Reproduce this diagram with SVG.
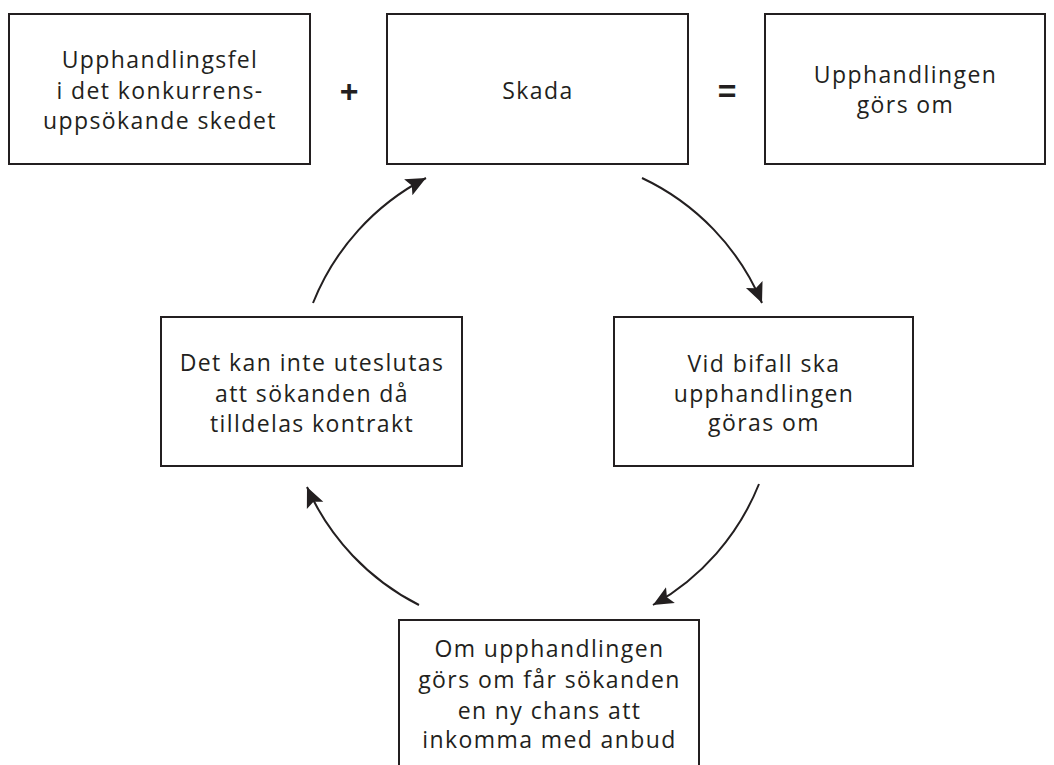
<svg xmlns="http://www.w3.org/2000/svg" width="1054" height="765" viewBox="0 0 1054 765">
<style>
.box{fill:#fff;stroke:#231f20;stroke-width:2}
.t{font-family:"Open Sans","Noto Sans",sans-serif;font-size:23px;letter-spacing:1.4px;fill:#231f20;text-anchor:middle}
.op{font-family:"Liberation Sans",sans-serif;font-size:32px;font-weight:bold;fill:#231f20;text-anchor:middle}
.c{fill:none;stroke:#231f20;stroke-width:2}
</style>
<defs>
<marker id="ah" markerUnits="userSpaceOnUse" markerWidth="22" markerHeight="22" viewBox="0 0 22 22" refX="20" refY="11" orient="auto">
<path d="M0,2 L20,11 L0,20 L4,11 Z" fill="#231f20"/>
</marker>
</defs>
<rect width="1054" height="765" fill="#fff"/>
<g id="n1"><rect class="box" x="9" y="14" width="301" height="150"/>
<text class="t" x="160" y="68">Upphandlingsfel</text>
<text class="t" x="160" y="99">i det konkurrens-</text>
<text class="t" x="160" y="129">uppsökande skedet</text></g>
<g id="plus"><text class="op" x="349" y="102">+</text></g>
<g id="n2"><rect class="box" x="387" y="14" width="301" height="150"/>
<text class="t" x="538" y="99">Skada</text></g>
<g id="eq"><text class="op" x="727" y="102">=</text></g>
<g id="n3"><rect class="box" x="765" y="14" width="280" height="150"/>
<text class="t" x="905.5" y="83">Upphandlingen</text>
<text class="t" x="905.5" y="113">görs om</text></g>
<g id="n4"><rect class="box" x="161" y="317" width="301" height="149"/>
<text class="t" x="312" y="371">Det kan inte uteslutas</text>
<text class="t" x="312" y="402">att sökanden då</text>
<text class="t" x="312" y="432">tilldelas kontrakt</text></g>
<g id="n5"><rect class="box" x="614" y="317" width="299" height="149"/>
<text class="t" x="764" y="372">Vid bifall ska</text>
<text class="t" x="764" y="402">upphandlingen</text>
<text class="t" x="764" y="431">göras om</text></g>
<g id="n6"><rect class="box" x="399" y="620" width="300" height="160"/>
<text class="t" x="549.5" y="657">Om upphandlingen</text>
<text class="t" x="549.5" y="688">görs om får sökanden</text>
<text class="t" x="549.5" y="719">en ny chans att</text>
<text class="t" x="549.5" y="748">inkomma med anbud</text></g>
<g id="connectors">
<path class="c" marker-end="url(#ah)" d="M313,303 A242,242 0 0 1 426,178"/>
<path class="c" marker-end="url(#ah)" d="M642,178 A242,242 0 0 1 762,303"/>
<path class="c" marker-end="url(#ah)" d="M759,484 A242,242 0 0 1 653,605"/>
<path class="c" marker-end="url(#ah)" d="M419,605 A242,242 0 0 1 307,487"/>
</g>
</svg>
